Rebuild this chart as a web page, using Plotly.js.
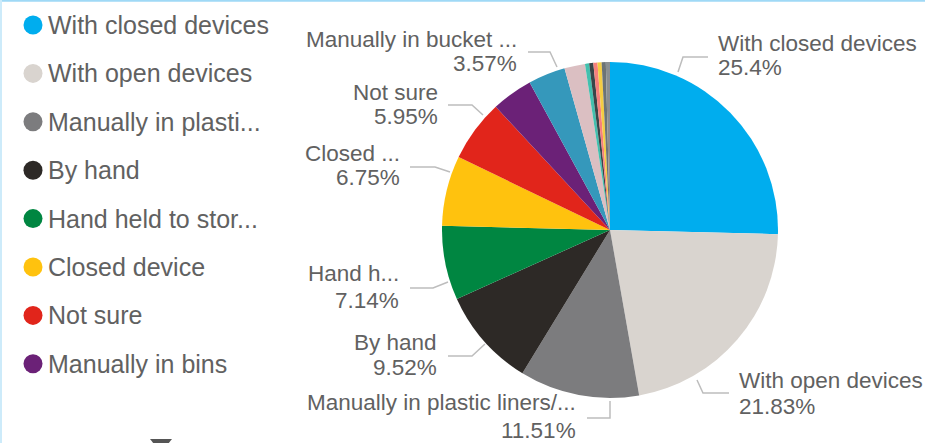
<!DOCTYPE html>
<html>
<head>
<meta charset="utf-8">
<script src="https://cdn.plot.ly/plotly-3.0.1.min.js"></script>
<style>html,body{margin:0;padding:0;background:#fff;}#chart{width:925px;height:443px;}</style>
</head>
<body>
<div id="chart"></div>
<script>
// ---- data ----
const categories = [
  "With closed devices", "With open devices", "Manually in plastic liners/...", "By hand",
  "Hand held to stor...", "Closed device", "Not sure", "Manually in bins",
  "Manually in bucket ...", "Other method", "Other A", "Other B", "Other C", "Other D", "Other E", "Other F"
];
const counts = [64, 55, 29, 24, 18, 17, 15, 10, 9, 5, 1, 1, 1, 1, 1, 1];
const colors = [
  "#00ADEE", "#D9D4CF", "#7C7C7E", "#2D2926", "#008641", "#FFC20E", "#E1251B", "#6B2177",
  "#3598BB", "#DBBFC2", "#43C0AE", "#3A4649", "#F7807C", "#F4CD42", "#6C7476", "#8A8F91"
];
const legendLabels = [
  "With closed devices", "With open devices", "Manually in plasti...", "By hand",
  "Hand held to stor...", "Closed device", "Not sure", "Manually in bins"
];
// slice label texts (as displayed, truncated); null = no label shown
const sliceLabelText = [
  "With closed devices", "With open devices", "Manually in plastic liners/...", "By hand",
  "Hand h...", "Closed ...", "Not sure", null, "Manually in bucket ...", null, null, null, null, null, null, null
];

// ---- layout positions (pixels) ----
const W = 925, H = 443;
const pieCx = 610, pieCy = 230, pieR = 168;
const labelPos = {
  0: {x: 716, y1: 43, y2: 68, side: "left", line: [[678,72],[683,57],[708,57]]},
  1: {x: 737, y1: 380, y2: 406, side: "left", line: [[697,380],[703,393],[729,393]]},
  2: {x: 578, y1: 402, y2: 430, side: "right", line: [[610,401],[610,418],[587,418]]},
  3: {x: 439, y1: 342, y2: 367, side: "right", line: [[485,344],[472,356],[448,356]]},
  4: {x: 401, y1: 273, y2: 300, side: "right", line: [[448,282],[433,288],[410,288]]},
  5: {x: 402, y1: 153, y2: 177, side: "right", line: [[450,172],[435,167],[410,167]]},
  6: {x: 440, y1: 92, y2: 116, side: "right", line: [[483,115],[472,105],[448,105]]},
  8: {x: 519, y1: 40, y2: 64, side: "right", line: [[557,67],[550,52],[528,52]]}
};
const legendX = 33, legendTextX = 46, legendY0 = 25, legendStep = 48.4, legendDotR = 9.5;

const px = x => x / W;
const py = y => 1 - y / H;
const total = counts.reduce((a, b) => a + b, 0);
const pctText = v => parseFloat((v / total * 100).toFixed(2)) + "%";

const FONT = "Liberation Sans, Arial, sans-serif";
const TXT = "#616161";

const annotations = [];
const shapes = [];

// slice labels
Object.keys(labelPos).forEach(k => {
  const i = +k, p = labelPos[k];
  const anchor = p.side === "left" ? "left" : "right";
  annotations.push({xref: "paper", yref: "paper", x: px(p.x), y: py(p.y1), xanchor: anchor, yanchor: "middle",
    text: sliceLabelText[i], showarrow: false, font: {family: FONT, size: 22.5, color: TXT}});
  annotations.push({xref: "paper", yref: "paper", x: px(p.x), y: py(p.y2), xanchor: anchor, yanchor: "middle",
    text: pctText(counts[i]), showarrow: false, font: {family: FONT, size: 22.5, color: TXT}});
  const path = p.line.map((pt, j) => (j ? "L" : "M") + px(pt[0]) + "," + py(pt[1])).join(" ");
  shapes.push({type: "path", xref: "paper", yref: "paper", path: path, line: {color: "#BDBDBD", width: 1.5}});
});

// legend
legendLabels.forEach((lab, i) => {
  const y = legendY0 + i * legendStep;
  shapes.push({type: "circle", xref: "paper", yref: "paper",
    x0: px(legendX - legendDotR), x1: px(legendX + legendDotR), y0: py(y + legendDotR), y1: py(y - legendDotR),
    fillcolor: colors[i], line: {width: 0}});
  annotations.push({xref: "paper", yref: "paper", x: px(legendTextX), y: py(y), xanchor: "left", yanchor: "middle",
    text: lab, showarrow: false, font: {family: FONT, size: 25, color: TXT}});
});

// frame (selection border) and scroll arrow
shapes.push({type: "line", xref: "paper", yref: "paper", x0: 0, x1: 1, y0: py(0.8), y1: py(0.8), line: {color: "#9FD9F6", width: 2}});
shapes.push({type: "line", xref: "paper", yref: "paper", x0: px(1), x1: px(1), y0: 0, y1: 1, line: {color: "#CDEBFA", width: 2}});
shapes.push({type: "path", xref: "paper", yref: "paper",
  path: "M" + px(150) + "," + py(439) + " L" + px(172) + "," + py(439) + " L" + px(168) + "," + py(444) + " L" + px(154) + "," + py(444) + " Z",
  fillcolor: "#555555", line: {width: 0}});

const trace = {
  type: "pie",
  labels: categories,
  values: counts,
  marker: {colors: colors, line: {width: 0}},
  sort: false,
  direction: "clockwise",
  rotation: 0,
  textinfo: "none",
  showlegend: false,
  hoverinfo: "label+percent",
  domain: {x: [px(pieCx - pieR), px(pieCx + pieR)], y: [py(pieCy + pieR), py(pieCy - pieR)]}
};

const layout = {
  width: W, height: H,
  margin: {l: 0, r: 0, t: 0, b: 0},
  paper_bgcolor: "#ffffff",
  showlegend: false,
  annotations: annotations,
  shapes: shapes
};

Plotly.newPlot("chart", [trace], layout, {displayModeBar: false, staticPlot: true});
</script>
</body>
</html>
